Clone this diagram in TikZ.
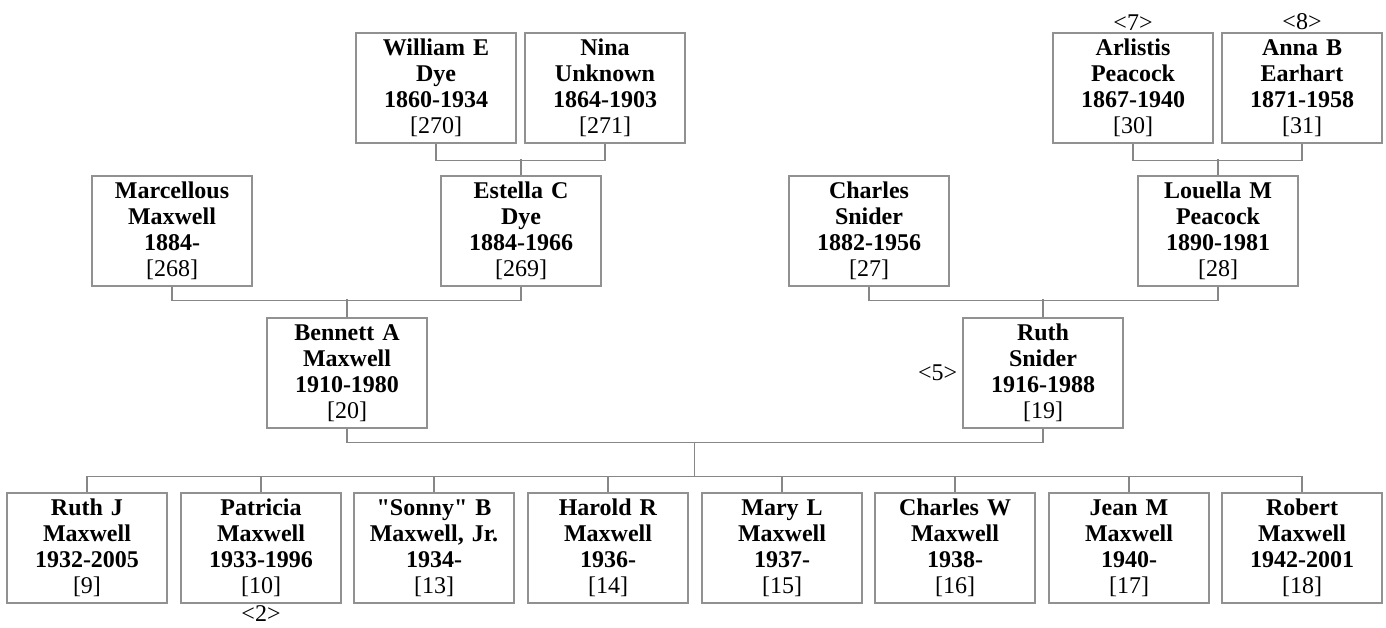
\documentclass[tikz,border=0pt]{standalone}
\usepackage{fontspec}
\setmainfont{Liberation Serif}
\newfontfamily\plainq{Liberation Serif}
\usetikzlibrary{positioning}

\definecolor{boxgray}{RGB}{145,145,145}
\definecolor{linegray}{RGB}{135,135,135}

\newcommand{\who}[4]{\textbf{#1}\\\textbf{#2}\\\textbf{#3}\\{}[#4]}
\newcommand{\dq}{{\plainq"}}

\tikzset{
	pbox/.style={shape=rectangle, draw=boxgray, line width=1.2pt, text width=156pt, inner sep=2pt,
		minimum height=110pt, align=center, font=\fontsize{24}{26}\selectfont},
	link/.style={draw=linegray, line width=1.2pt},
	tag/.style={inner sep=1pt, font=\fontsize{24}{26}\selectfont}
}

\begin{document}
\begin{tikzpicture}[x=1pt, y=-1pt]
	
	\useasboundingbox (0,0) rectangle (1386,627);
	
	% great-grandparents
	\node[pbox] (william)  at (436, 88)  {\who{William E}{Dye}{1860-1934}{270}};
	\node[pbox] (nina)     at (605, 88)  {\who{Nina}{Unknown}{1864-1903}{271}};
	\node[pbox] (arlistis) at (1133, 88) {\who{Arlistis}{Peacock}{1867-1940}{30}};
	\node[pbox] (anna)     at (1302, 88) {\who{Anna B}{Earhart}{1871-1958}{31}};
	
	% grandparents
	\node[pbox] (marcellous) at (172, 231)  {\who{Marcellous}{Maxwell}{1884-}{268}};
	\node[pbox] (estella)    at (521, 231)  {\who{Estella C}{Dye}{1884-1966}{269}};
	\node[pbox] (charles)    at (869, 231)  {\who{Charles}{Snider}{1882-1956}{27}};
	\node[pbox] (louella)    at (1218, 231) {\who{Louella M}{Peacock}{1890-1981}{28}};
	
	% parents
	\node[pbox] (bennett) at (347, 373)  {\who{Bennett A}{Maxwell}{1910-1980}{20}};
	\node[pbox] (ruthS)   at (1043, 373) {\who{Ruth}{Snider}{1916-1988}{19}};
	
	% children
	\node[pbox] (ruthJ)    at (87, 548)   {\who{Ruth J}{Maxwell}{1932-2005}{9}};
	\node[pbox] (patricia) at (261, 548)  {\who{Patricia}{Maxwell}{1933-1996}{10}};
	\node[pbox] (sonny)    at (434, 548)  {\who{\dq Sonny\dq{} B}{Maxwell, Jr.}{1934-}{13}};
	\node[pbox] (harold)   at (608, 548)  {\who{Harold R}{Maxwell}{1936-}{14}};
	\node[pbox] (mary)     at (782, 548)  {\who{Mary L}{Maxwell}{1937-}{15}};
	\node[pbox] (charlesW) at (955, 548)  {\who{Charles W}{Maxwell}{1938-}{16}};
	\node[pbox] (jean)     at (1129, 548) {\who{Jean M}{Maxwell}{1940-}{17}};
	\node[pbox] (robert)   at (1302, 548) {\who{Robert}{Maxwell}{1942-2001}{18}};
	
	% reference marks
	\node[tag, above=1pt of arlistis] (t7) {<7>};
	\node[tag, above=1pt of anna]     (t8) {<8>};
	\node[tag, left=4pt of ruthS]     (t5) {<5>};
	\node[tag, below=1pt of patricia] (t2) {<2>};
	
	% couples
	\path[link] (william.south) -- ++(0,17) -| (nina.south);
	\path[link] (estella.north) -- ++(0,-16);
	\path[link] (arlistis.south) -- ++(0,17) -| (anna.south);
	\path[link] (louella.north) -- ++(0,-16);
	\path[link] (marcellous.south) -- ++(0,14) -| (estella.south);
	\path[link] (bennett.north) -- ++(0,-18);
	\path[link] (charles.south) -- ++(0,14) -| (louella.south);
	\path[link] (ruthS.north) -- ++(0,-18);
	\path[link] (bennett.south) -- ++(0,14) -| (ruthS.south);
	
	\coordinate (fam)  at (694.5, 442);
	\coordinate (kids) at (694.5, 477);
	\path[link] (fam) -- (kids);
	\path[link] (ruthJ.north) -- ++(0,-16) -| (robert.north);
	\foreach \k in {patricia, sonny, harold, mary, charlesW, jean}
		\path[link] (\k.north) -- ++(0,-16);
	
\end{tikzpicture}
\end{document}
